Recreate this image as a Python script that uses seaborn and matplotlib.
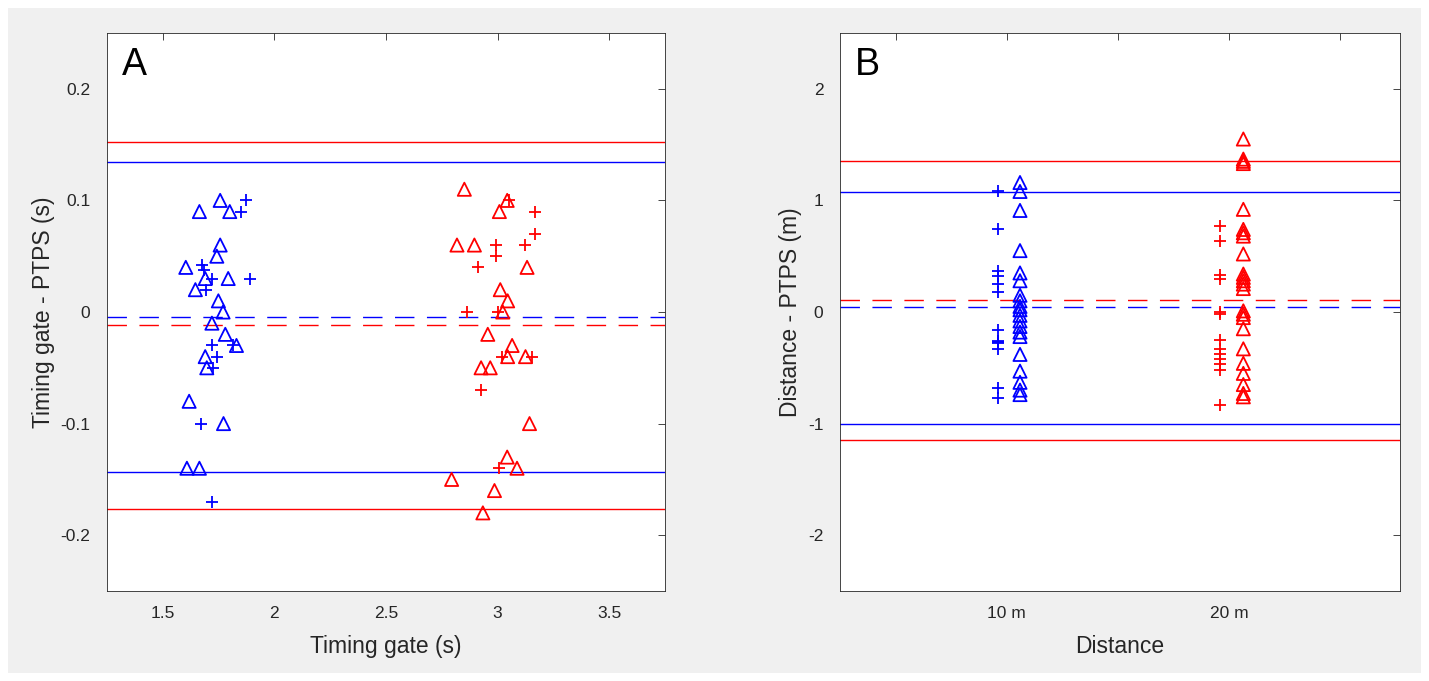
import matplotlib
matplotlib.use("Agg")
import matplotlib.pyplot as plt
import seaborn as sns
import numpy as np
import pandas as pd
from matplotlib.patches import Rectangle

# ---------------- Panel A data (Timing gate) ----------------
a_blue_tri_x = [1.757, 1.664, 1.800, 1.757, 1.742, 1.603, 1.690, 1.793, 1.646, 1.749,
                1.770, 1.720, 1.780, 1.830, 1.690, 1.697, 1.618, 1.772, 1.608, 1.664]
a_blue_tri_y = [0.10, 0.09, 0.09, 0.06, 0.05, 0.04, 0.03, 0.03, 0.02, 0.01,
                0.00, -0.01, -0.02, -0.03, -0.04, -0.05, -0.08, -0.10, -0.14, -0.14]
a_blue_plus_x = [1.874, 1.850, 1.677, 1.684, 1.722, 1.890, 1.693, 1.720, 1.813, 1.742,
                 1.727, 1.669, 1.721]
a_blue_plus_y = [0.10, 0.09, 0.042, 0.038, 0.03, 0.03, 0.02, -0.03, -0.03, -0.04,
                 -0.05, -0.10, -0.17]
a_red_tri_x = [2.851, 3.043, 3.008, 2.818, 2.896, 3.132, 3.012, 3.045, 3.023, 2.956,
               3.065, 3.045, 3.125, 2.926, 2.967, 3.143, 3.043, 3.087, 2.794, 2.986, 2.934]
a_red_tri_y = [0.11, 0.10, 0.09, 0.06, 0.06, 0.04, 0.02, 0.01, 0.00, -0.02,
               -0.03, -0.04, -0.04, -0.05, -0.05, -0.10, -0.13, -0.14, -0.15, -0.16, -0.18]
a_red_plus_x = [3.053, 3.168, 3.168, 2.993, 3.123, 2.993, 2.911, 2.861, 3.000, 3.020,
                3.155, 2.926, 3.005]
a_red_plus_y = [0.10, 0.09, 0.07, 0.06, 0.06, 0.05, 0.04, 0.00, 0.00, -0.04,
                -0.04, -0.07, -0.14]
# limits of agreement / bias: [upper, bias, lower]
a_blue_lines = [0.1345, -0.0045, -0.1435]
a_red_lines = [0.1525, -0.0117, -0.1767]

# ---------------- Panel B data (Distance) ----------------
b_categories = ["10 m", "20 m"]
b_blue_tri_y = [1.16, 1.08, 0.91, 0.55, 0.35, 0.28, 0.15, 0.10, 0.05, 0.02,
                -0.03, -0.08, -0.13, -0.18, -0.22, -0.38, -0.53, -0.63, -0.70, -0.74]
b_blue_plus_y = [1.08, 0.74, 0.37, 0.32, 0.25, 0.18, -0.16, -0.26, -0.27, -0.28,
                 -0.33, -0.68, -0.77]
b_red_tri_y = [1.55, 1.37, 1.35, 1.33, 0.92, 0.74, 0.71, 0.68, 0.52, 0.34,
               0.31, 0.28, 0.25, 0.21, 0.01, -0.02, -0.05, -0.15, -0.33, -0.46,
               -0.55, -0.65, -0.73, -0.76]
b_red_plus_y = [0.77, 0.64, 0.33, 0.30, 0.00, -0.02, -0.25, -0.33, -0.38, -0.42,
                -0.47, -0.52, -0.83]
b_blue_lines = [1.076, 0.045, -1.004]
b_red_lines = [1.354, 0.108, -1.148]

a_xticks = [1.5, 2, 2.5, 3, 3.5]
a_xticklabels = ["1.5", "2", "2.5", "3", "3.5"]
a_yticks = [-0.2, -0.1, 0, 0.1, 0.2]
a_yticklabels = ["-0.2", "-0.1", "0", "0.1", "0.2"]
b_xticks = [0.5, 1, 1.5, 2, 2.5]
b_xticklabels = ["", "10 m", "", "20 m", ""]
b_yticks = [-2, -1, 0, 1, 2]
b_yticklabels = ["-2", "-1", "0", "1", "2"]

BLUE = "#0000ff"
RED = "#ff0000"
TXT = "#262626"

sns.set_style("white")
plt.rcParams["font.family"] = ["Liberation Sans", "DejaVu Sans"]

fig = plt.figure(figsize=(14.29, 6.81), dpi=100)
fig.patch.set_facecolor("white")
fig.add_artist(Rectangle((8 / 1429, 8 / 681), 1413 / 1429, 665 / 681,
                         transform=fig.transFigure, facecolor="#f0f0f0",
                         edgecolor="none", zorder=-10))

W, H = 1429, 681
axA = fig.add_axes([107 / W, 1 - 591 / H, 558 / W, 558 / H])
axB = fig.add_axes([840 / W, 1 - 591 / H, 560 / W, 558 / H])

TRI_S = 90
PLUS_S = 72
LW_M = 1.3
LABEL_FS = 16.5
TICK_FS = 12.5


def draw_points(ax, x, y, color, marker):
    df = pd.DataFrame({"x": x, "y": y})
    if marker == "^":
        sns.scatterplot(data=df, x="x", y="y", ax=ax, marker="^", s=TRI_S,
                        facecolor="none", edgecolor=color, linewidth=LW_M,
                        zorder=3, legend=False)
    else:
        sns.scatterplot(data=df, x="x", y="y", ax=ax, marker="+", s=PLUS_S,
                        color=color, linewidth=LW_M, zorder=3, legend=False)


def draw_lines(ax, vals, color):
    ax.axhline(vals[0], color=color, lw=1.0, zorder=2)
    ax.axhline(vals[1], color=color, lw=1.0, ls=(0, (14, 9)), zorder=2)
    ax.axhline(vals[2], color=color, lw=1.0, zorder=2)


# Panel A
draw_lines(axA, a_red_lines, RED)
draw_lines(axA, a_blue_lines, BLUE)
draw_points(axA, a_blue_tri_x, a_blue_tri_y, BLUE, "^")
draw_points(axA, a_blue_plus_x, a_blue_plus_y, BLUE, "+")
draw_points(axA, a_red_tri_x, a_red_tri_y, RED, "^")
draw_points(axA, a_red_plus_x, a_red_plus_y, RED, "+")
axA.set_xlim(1.25, 3.75)
axA.set_ylim(-0.25, 0.25)
axA.set_xticks(a_xticks)
axA.set_xticklabels(a_xticklabels)
axA.set_yticks(a_yticks)
axA.set_yticklabels(a_yticklabels)
axA.set_xlabel("Timing gate (s)", fontsize=LABEL_FS, color=TXT, labelpad=10)
axA.set_ylabel("Timing gate - PTPS (s)", fontsize=LABEL_FS, color=TXT, labelpad=4)
axA.text(0.027, 0.975, "A", transform=axA.transAxes, fontsize=27,
         va="top", ha="left", color="black")

# Panel B
b_pos = {c: i + 1 for i, c in enumerate(b_categories)}
blue_plus_x = [b_pos["10 m"] - 0.04] * len(b_blue_plus_y)
blue_tri_x = [b_pos["10 m"] + 0.06] * len(b_blue_tri_y)
red_plus_x = [b_pos["20 m"] - 0.04] * len(b_red_plus_y)
red_tri_x = [b_pos["20 m"] + 0.065] * len(b_red_tri_y)
draw_lines(axB, b_red_lines, RED)
draw_lines(axB, b_blue_lines, BLUE)
draw_points(axB, blue_tri_x, b_blue_tri_y, BLUE, "^")
draw_points(axB, blue_plus_x, b_blue_plus_y, BLUE, "+")
draw_points(axB, red_tri_x, b_red_tri_y, RED, "^")
draw_points(axB, red_plus_x, b_red_plus_y, RED, "+")
axB.set_xlim(0.25, 2.77)
axB.set_ylim(-2.5, 2.5)
axB.set_xticks(b_xticks)
axB.set_xticklabels(b_xticklabels)
axB.set_yticks(b_yticks)
axB.set_yticklabels(b_yticklabels)
axB.set_xlabel("Distance", fontsize=LABEL_FS, color=TXT, labelpad=10)
axB.set_ylabel("Distance - PTPS (m)", fontsize=LABEL_FS, color=TXT, labelpad=4)
axB.text(0.027, 0.975, "B", transform=axB.transAxes, fontsize=27,
         va="top", ha="left", color="black")

for ax in (axA, axB):
    ax.set_facecolor("white")
    for sp in ax.spines.values():
        sp.set_visible(True)
        sp.set_color(TXT)
        sp.set_linewidth(0.6)
    ax.tick_params(axis="both", which="both", direction="in", length=5,
                   width=0.6, color=TXT, labelcolor=TXT, labelsize=TICK_FS,
                   top=True, right=True)
    ax.tick_params(axis="x", pad=11)
    ax.tick_params(axis="y", pad=12)

fig.savefig("out.png", dpi=100, facecolor=fig.get_facecolor())
